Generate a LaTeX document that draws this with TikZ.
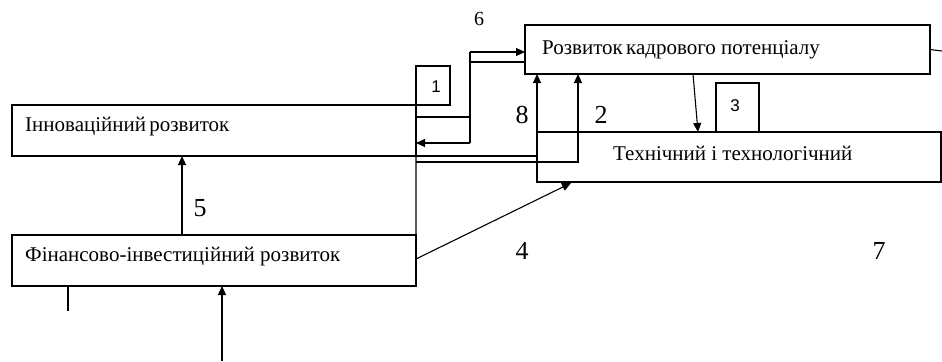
\documentclass[tikz,border=0pt]{standalone}
\usepackage{fontspec}
\setmainfont{Liberation Serif}
\newfontfamily\numsans{Liberation Sans}
\usetikzlibrary{arrows.meta,calc}
\tikzset{
  box/.style={draw, line width=1.1bp, inner sep=0pt, outer sep=0pt, anchor=north west},
  conn/.style={line width=1.1bp},
  arr/.style={line width=1.1bp, -{Triangle[length=9bp,width=8bp]}},
  lbl/.style={inner sep=0pt, anchor=base west, font=\fontsize{21bp}{24bp}\selectfont},
  num/.style={inner sep=0pt, font=\fontsize{26bp}{28bp}\selectfont},
  numsmall/.style={inner sep=0pt, font=\numsans\fontsize{17bp}{19bp}\selectfont},
}
\begin{document}
\begin{tikzpicture}[x=1bp,y=-1bp]
\useasboundingbox (0,0) rectangle (942,361);
% boxes
\node[box, minimum width=405bp, minimum height=49bp] (kadr) at (525,25) {};
\node[box, minimum width=404bp, minimum height=50bp] (tech) at (537,132) {};
\node[box, minimum width=404bp, minimum height=51bp] (inn) at (12,105) {};
\node[box, minimum width=404bp, minimum height=51bp] (fin) at (12,235) {};
\node[box, minimum width=34bp, minimum height=39bp] (b1) at (416,66) {};
\node[box, minimum width=43bp, minimum height=49bp] (b3) at (716,83) {};
% texts
\node[lbl] (tkadr) at (542,54) {Розвиток\hspace{-2bp} кадрового потенціалу};
\node[lbl] (ttech) at (613,160) {Технічний і технологічний};
\node[lbl] (tinn) at (25,131) {Інноваційний\hspace{-2bp} розвиток};
\node[lbl] (tfin) at (25,261) {Фінансово-інвестиційний розвиток};
% numbers
\node[num, font=\fontsize{20bp}{22bp}\selectfont] (n6) at (479,19) {6};
\node[numsmall] (n1) at (436,87) {1};
\node[numsmall] (n3) at (735,106) {3};
\node[num] (n8) at (522,115) {8};
\node[num] (n2) at (601,115) {2};
\node[num] (n5) at (200,208) {5};
\node[num] (n4) at (522,251) {4};
\node[num] (n7) at (879,251) {7};
% coordinates
\coordinate (ja) at (470,52);
\coordinate (jb) at (470,62);
\coordinate (jc) at (470,117);
\coordinate (jd) at (470,143);
\coordinate (je) at (578,162);
\coordinate (rt) at (942,51);
\coordinate (lowin) at (222,361);
\coordinate (tick) at (68,311);
% connectors
\draw[conn] (b1.north west) -- (fin.north east);
\draw[conn] (inn.east |- jc) -- (jc);
\draw[conn] (ja) -- (jd);
\draw[arr] (ja) -- (kadr.west |- ja);
\draw[conn] (jb) -- (kadr.west |- jb);
\draw[arr] (jd) -- (inn.east |- jd);
\draw[conn] (inn.south east) -- (tech.west |- inn.south east);
\draw[arr] (inn.east |- je) -- (je) -- (kadr.south -| je);
\draw[arr] (tech.south west) -- (kadr.south -| tech.west);
\draw[arr] ($(kadr.south west)+(168,0)$) -- ($(tech.north west)+(161,0)$);
\draw[arr] ($(fin.south east)+(0,-27)$) -- ($(tech.south west)+(34,1)$);
\draw[arr] ($(fin.north west)+(170,0)$) -- ($(inn.south west)+(170,0)$);
\draw[arr] (lowin) -- (fin.south -| lowin);
\draw[line width=2.6bp] (fin.south -| tick) -- (tick);
\draw[conn] (kadr.east) -- (rt);
\end{tikzpicture}
\end{document}
